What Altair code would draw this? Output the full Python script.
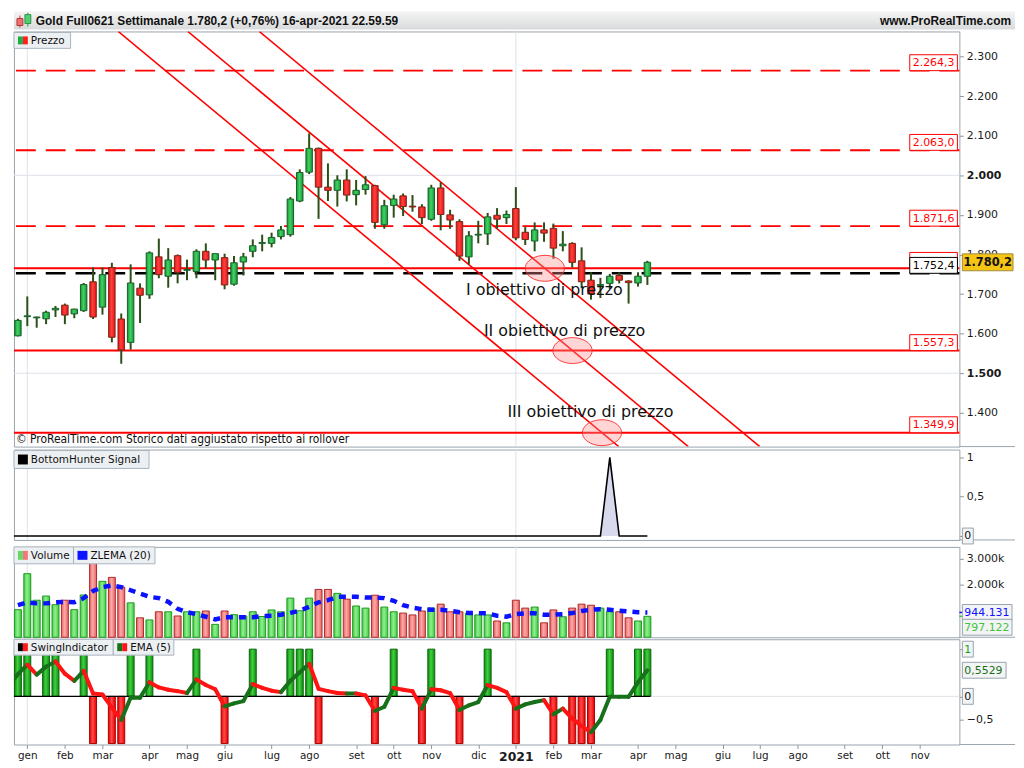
import math
import json
import altair as alt
import numpy as np
import pandas as pd

FONT = "DejaVu Sans"

# ---------------- data ----------------
# weekly bars: 0 = week of 30 Dec 2019 ... 67 = week of 12 Apr 2021
bar_index = list(range(68))

opens = [1594.6, 1643, 1640, 1637.5, 1660, 1672, 1650, 1658, 1731, 1667,
         1767, 1637, 1578, 1715, 1698, 1794, 1745, 1797, 1760, 1757,
         1808, 1786, 1792, 1725, 1781, 1808, 1828, 1828, 1845, 1850,
         1935, 2008, 2068, 1970, 1962, 1988, 1951, 1964, 1974, 1875,
         1924, 1948, 1922, 1920, 1889, 1968, 1900, 1883, 1794, 1849,
         1852, 1899, 1893, 1916, 1856, 1834, 1862, 1866, 1822, 1828,
         1784, 1735, 1722, 1727, 1747, 1733, 1728, 1745]
highs = [1637.5, 1694, 1643, 1658, 1670, 1676, 1663, 1728, 1767, 1767,
         1779, 1651, 1775, 1727, 1808, 1840, 1816, 1800, 1787, 1813,
         1828, 1802, 1802, 1796, 1804, 1838, 1850, 1855, 1872, 1945,
         2015, 2106, 2070, 2030, 2000, 2015, 1988, 1998, 1976, 1938,
         1951, 1954, 1950, 1927, 1976, 1982, 1913, 1889, 1859, 1885,
         1905, 1917, 1911, 1970, 1869, 1881, 1881, 1878, 1859, 1831,
         1818, 1755, 1741, 1751, 1755, 1735, 1755, 1784]
lows = [1593, 1619, 1615, 1624, 1642, 1624, 1639, 1655, 1637, 1648,
        1578, 1524, 1560, 1627, 1688, 1740, 1716, 1727, 1735, 1740,
        1765, 1735, 1712, 1721, 1747, 1793, 1808, 1818, 1838, 1845,
        1932, 2003, 1890, 1935, 1921, 1934, 1924, 1951, 1865, 1865,
        1893, 1897, 1908, 1877, 1885, 1861, 1865, 1784, 1775, 1828,
        1824, 1865, 1877, 1836, 1824, 1808, 1832, 1789, 1808, 1767,
        1715, 1686, 1690, 1713, 1727, 1676, 1719, 1723]
closes = [1633.5, 1645, 1642, 1654, 1664, 1647, 1662, 1724, 1642, 1749,
          1591, 1559, 1728, 1697, 1804, 1749, 1786, 1755, 1762, 1808,
          1786, 1802, 1723, 1779, 1794, 1822, 1830, 1843, 1862, 1940,
          2007, 2068, 1970, 1962, 1988, 1950, 1962, 1976, 1881, 1923,
          1940, 1921, 1920, 1893, 1968, 1901, 1887, 1796, 1847, 1851,
          1895, 1889, 1901, 1842, 1838, 1862, 1854, 1816, 1826, 1780,
          1731, 1700, 1724, 1745, 1735, 1729, 1745, 1780.2]

volume_k = [1050, 2420, 1410, 1570, 1240, 1410, 1050, 1610, 2860, 2130,
            2280, 1910, 1310, 740, 660, 970, 970, 810, 970, 970,
            1000, 490, 1000, 860, 810, 970, 790, 1040, 970, 1490,
            1010, 1490, 1820, 1820, 1670, 1450, 1190, 1110, 1600, 1150,
            970, 920, 850, 1000, 1110, 1260, 970, 970, 920, 850,
            850, 620, 550, 1410, 1110, 1150, 550, 1040, 780, 1110,
            1260, 1220, 1110, 970, 970, 740, 620, 797.122]
zlema_k = [1220, 1330, 1290, 1290, 1330, 1350, 1330, 1490, 1760, 1910,
           1970, 1910, 1790, 1660, 1540, 1490, 1350, 1080, 950, 880,
           780, 680, 760, 760, 760, 760, 810, 820, 860, 930,
           1010, 1160, 1330, 1410, 1540, 1540, 1540, 1510, 1510, 1490,
           1390, 1220, 1130, 1070, 1050, 1050, 1010, 950, 920, 920,
           910, 820, 780, 880, 910, 910, 860, 860, 880, 920,
           1000, 1050, 1070, 1050, 1010, 980, 950, 944.131]
swing = [1, 1, 0, 1, 1, 0, 0, 1, -1, 0,
         -1, -1, 1, 0, 1, 0, 0, 0, 0, 1,
         0, 0, -1, 0, 0, 1, 0, 0, 0, 1,
         1, 1, -1, 0, 0, 0, 0, 0, -1, 0,
         1, 0, 0, -1, 1, 0, 0, -1, 0, 0,
         1, 0, 0, -1, 0, 0, 0, -1, 0, -1,
         -1, -1, 0, 1, 0, 0, 1, 1]
ema_index = list(range(-1, 68))
ema5 = [0.22,
        0.47, 0.67, 0.46, 0.63, 0.74, 0.48, 0.33, 0.54, 0.06, 0.04,
        -0.24, -0.5, -0.03, -0.03, 0.30, 0.19, 0.14, 0.11, 0.07, 0.36,
        0.24, 0.15, -0.21, -0.15, -0.10, 0.26, 0.18, 0.12, 0.09, 0.33,
        0.51, 0.69, 0.16, 0.11, 0.07, 0.06, 0.06, 0.02, -0.31, -0.22,
        0.18, 0.14, 0.11, -0.26, 0.15, 0.13, 0.07, -0.29, -0.19, -0.12,
        0.24, 0.18, 0.09, -0.26, -0.17, -0.12, -0.08, -0.38, -0.26, -0.47,
        -0.63, -0.76, -0.50, -0.01, -0.01, -0.01, 0.30, 0.5529]
bh_index = list(range(-1, 68))
bottom_hunter = [0,
                 0, 0, 0, 0, 0, 0, 0, 0, 0, 0,
                 0, 0, 0, 0, 0, 0, 0, 0, 0, 0,
                 0, 0, 0, 0, 0, 0, 0, 0, 0, 0,
                 0, 0, 0, 0, 0, 0, 0, 0, 0, 0,
                 0, 0, 0, 0, 0, 0, 0, 0, 0, 0,
                 0, 0, 0, 0, 0, 0, 0, 0, 0, 0,
                 0, 0, 0, 1, 0, 0, 0, 0]

month_tick_bars = [1, 5, 9, 14, 18, 22, 27, 31, 36, 40, 44, 49,
                   53, 57, 61, 66, 70, 75, 79, 83, 88, 92, 96]
month_tick_labels = ["gen", "feb", "mar", "apr", "mag", "giu", "lug", "ago", "set", "ott", "nov", "dic",
                     "2021", "feb", "mar", "apr", "mag", "giu", "lug", "ago", "set", "ott", "nov"]
year_start_bars = [1, 53]

price_ticks = [1400, 1500, 1600, 1700, 1800, 1900, 2000, 2100, 2200, 2300]

level_values = [2264.3, 2063.0, 1871.6, 1765.0, 1752.4, 1557.3, 1349.9]
level_kinds = ["dash_red", "dash_red", "dash_red", "solid_red", "dash_black", "solid_red", "solid_red"]
level_labels = ["2.264,3", "2.063,0", "1.871,6", "", "1.752,4", "1.557,3", "1.349,9"]
level_colors = ["#ff0000", "#ff0000", "#ff0000", "#ff0000", "#000000", "#ff0000", "#ff0000"]

channel_start_bar = [10.68, 18.08, 25.69]
channel_end_bar = [63.95, 71.35, 78.96]
channel_start_price = [2363.2, 2363.2, 2363.2]
channel_end_price = [1314.8, 1314.8, 1314.8]

target_bar = [56.09, 59.03, 62.17]
target_price = [1765.0, 1557.3, 1349.9]
target_text = ["I obiettivo di prezzo", "II obiettivo di prezzo", "III obiettivo di prezzo"]
target_text_bar = [47.7, 49.6, 52.1]
target_text_price = [1711.0, 1607.0, 1402.0]

TITLE = "Gold Full0621 Settimanale 1.780,2 (+0,76%) 16-apr-2021 22.59.59"
SITE = "www.ProRealTime.com"
COPYRIGHT = "\u00a9 ProRealTime.com Storico dati aggiustato rispetto ai rollover"

# ---------------- layout ----------------
W = 952
RW = 56
H_HEAD, H_PRICE, H_BH, H_VOL, H_SW = 18, 418, 91, 91, 106
XSCALE = alt.Scale(domain=[-0.42, 100.21], nice=False, zero=False, padding=0)
LEG_FONT = 10.5


def it_num(v, dec):
    s = f"{v:,.{dec}f}"
    return s.replace(",", "X").replace(".", ",").replace("X", ".")


def grad(c1, c2):
    return alt.LinearGradient(gradient="linear", x1=0, y1=0, x2=1, y2=0,
                              stops=[alt.GradientStop(color=c1, offset=0),
                                     alt.GradientStop(color=c2, offset=0.45),
                                     alt.GradientStop(color=c1, offset=1)])


def xn(field):
    return alt.X(f"{field}:Q", scale=XSCALE, axis=None, title=None)


one = pd.DataFrame({"k": [0]})

df = pd.DataFrame({"i": bar_index, "o": opens, "h": highs, "l": lows, "c": closes,
                   "v": volume_k, "z": zlema_k, "s": swing})
years = pd.DataFrame({"i": year_start_bars})


def legend(x0, x1, y0, y1, label, icon_cols):
    layers = [alt.Chart(one).mark_rect(fill="#edf0f3", stroke="#a9b3bc", strokeWidth=1).encode(
        x=alt.value(x0), x2=alt.value(x1), y=alt.value(y0), y2=alt.value(y1))]
    n = len(icon_cols)
    w = 10.0 / n
    for k, c in enumerate(icon_cols):
        layers.append(alt.Chart(one).mark_rect(fill=c).encode(
            x=alt.value(x0 + 4 + k * w), x2=alt.value(x0 + 4 + (k + 1) * w),
            y=alt.value(y0 + 4), y2=alt.value(y1 - 4)))
    layers.append(alt.Chart(one).mark_text(text=label, align="left", baseline="middle", fontSize=LEG_FONT,
                                           font=FONT, color="#111").encode(
        x=alt.value(x0 + 17), y=alt.value((y0 + y1) / 2 + 0.5)))
    return layers


def tag(yfun, value, label, txt_col, width, offset=0.0, fill="#f3f4f5", bold=False):
    d = pd.DataFrame({"v": [value], "lab": [label]})
    box = alt.Chart(d).mark_rect(fill=fill, stroke="#98a3ad", strokeWidth=1,
                                 yOffset=offset - 8, y2Offset=offset + 8).encode(
        x=alt.value(W + 3), x2=alt.value(W + 3 + width), y=yfun("v"), y2=alt.Y2("v"))
    txt = alt.Chart(d).mark_text(align="left", baseline="middle", dy=offset + 0.5, fontSize=11, font=FONT,
                                 color=txt_col, fontWeight="bold" if bold else "normal").encode(
        x=alt.value(W + 5), y=yfun("v"), text="lab:N")
    return [box, txt]


def sep_rule(h):
    return alt.Chart(one).mark_rule(color="#98a3ad", strokeWidth=1).encode(
        x=alt.value(W), x2=alt.value(W + RW), y=alt.value(h))


AXIS_STYLE = dict(orient="right", grid=False, domain=False, tickSize=4, tickColor="#8c969f",
                  labelFont=FONT, labelFontSize=11, labelColor="#1a1a1a", labelPadding=3)

# ---------------- header ----------------
head_grad = alt.LinearGradient(gradient="linear", x1=0, y1=0, x2=0, y2=1,
                               stops=[alt.GradientStop(color="#f4f4f4", offset=0),
                                      alt.GradientStop(color="#d9dadb", offset=1)])
header = alt.layer(
    alt.Chart(one).mark_rect(fill=head_grad).encode(
        x=alt.value(0), x2=alt.value(W + RW), y=alt.value(0), y2=alt.value(H_HEAD)),
    alt.Chart(one).mark_rule(color="#e03030", strokeWidth=1).encode(
        x=alt.value(6), y=alt.value(4), y2=alt.value(16)),
    alt.Chart(one).mark_rect(fill="#f07070", stroke="#a02020", strokeWidth=0.8).encode(
        x=alt.value(3), x2=alt.value(9), y=alt.value(7), y2=alt.value(14)),
    alt.Chart(one).mark_rule(color="#20a040", strokeWidth=1).encode(
        x=alt.value(14), y=alt.value(1), y2=alt.value(15)),
    alt.Chart(one).mark_rect(fill="#50d070", stroke="#208040", strokeWidth=0.8).encode(
        x=alt.value(11), x2=alt.value(17), y=alt.value(3), y2=alt.value(12)),
    alt.Chart(one).mark_text(text=TITLE, align="left", baseline="middle", font="Liberation Sans",
                             fontWeight="bold", fontSize=12, color="#111").encode(
        x=alt.value(22), y=alt.value(H_HEAD / 2 + 0.5)),
    alt.Chart(one).mark_text(text=SITE, align="right", baseline="middle", font="Liberation Sans",
                             fontWeight="bold", fontSize=12, color="#111").encode(
        x=alt.value(W + RW - 4), y=alt.value(H_HEAD / 2 + 0.5)),
).properties(width=W, height=H_HEAD, view=alt.ViewBackground(stroke="transparent"))

# ---------------- price panel ----------------
PSCALE = alt.Scale(domain=[1314.8, 2363.2], nice=False, zero=False)
PAXIS = alt.Axis(values=price_ticks,
                 labelExpr="replace(format(datum.value, ','), ',', '.')",
                 labelFontWeight={"condition": {"test": "datum.value == 2000 || datum.value == 1500",
                                                "value": "bold"}, "value": "normal"},
                 **AXIS_STYLE)


def py(field):
    return alt.Y(f"{field}:Q", scale=PSCALE, axis=PAXIS, title=None)


levels = pd.DataFrame({"p": level_values, "kind": level_kinds, "lab": level_labels, "col": level_colors})
hgrid = pd.DataFrame({"p": [1500, 2000]})
chan = pd.DataFrame({"x1": channel_start_bar, "x2": channel_end_bar,
                     "p1": channel_start_price, "p2": channel_end_price})
tgt = pd.DataFrame({"i": target_bar, "p": target_price})
tgt_txt = pd.DataFrame({"i": target_text_bar, "p": target_text_price, "t": target_text})
last = pd.DataFrame({"p": [closes[-1]], "lab": [it_num(closes[-1], 1)]})

ell_pts = [2 * math.pi * k / 40 for k in range(40)]
ELLIPSE = "M" + " L".join(f"{math.cos(t):.3f},{0.66 * math.sin(t):.3f}" for t in ell_pts) + " Z"

price_layers = [
    alt.Chart(years).mark_rule(color="#dde2e8", strokeWidth=1).encode(x=xn("i")),
    alt.Chart(hgrid).mark_rule(color="#dde2e8", strokeWidth=1).encode(y=py("p")),
    alt.Chart(levels).transform_filter("datum.kind == 'dash_red'").mark_rule(
        color="#ff0000", strokeWidth=2, strokeDash=[20, 10]).encode(y=py("p")),
    alt.Chart(levels).transform_filter("datum.kind == 'solid_red'").mark_rule(
        color="#ff0000", strokeWidth=2).encode(y=py("p")),
    alt.Chart(levels).transform_filter("datum.kind == 'dash_black'").mark_rule(
        color="#000000", strokeWidth=2.5, strokeDash=[20, 10]).encode(y=py("p")),
    alt.Chart(chan).mark_rule(color="#ff0000", strokeWidth=1.6, clip=True).encode(
        x=xn("x1"), x2=alt.X2("x2"), y=py("p1"), y2=alt.Y2("p2")),
    alt.Chart(df).mark_rule(color="#2b4f16", strokeWidth=2).encode(
        x=xn("i"), y=py("l"), y2=alt.Y2("h")),
    alt.Chart(df).transform_filter("datum.c >= datum.o").mark_bar(
        size=6.5, fill=grad("#169237", "#40d462"), stroke="#1a5e28", strokeWidth=1).encode(
        x=xn("i"), y=py("o"), y2=alt.Y2("c")),
    alt.Chart(df).transform_filter("datum.c < datum.o").mark_bar(
        size=6.5, fill=grad("#e61212", "#ff4040"), stroke="#7a2512", strokeWidth=1).encode(
        x=xn("i"), y=py("o"), y2=alt.Y2("c")),
    alt.Chart(tgt).mark_point(shape=ELLIPSE, size=1560, filled=True, fill="#ff8a8a", fillOpacity=0.36,
                              stroke="#ff2a2a", strokeWidth=1, strokeOpacity=0.9, opacity=1).encode(
        x=xn("i"), y=py("p")),
    alt.Chart(tgt_txt).mark_text(align="left", baseline="middle", fontSize=16, font=FONT,
                                 color="#111").encode(x=xn("i"), y=py("p"), text="t:N"),
    alt.Chart(levels).mark_rect(fill="white", strokeWidth=1, yOffset=-16, y2Offset=0).encode(
        x=alt.value(W - 50), x2=alt.value(W - 2), y=py("p"), y2=alt.Y2("p"),
        stroke=alt.Stroke("col:N", scale=None)),
    alt.Chart(levels).transform_filter("datum.lab != ''").mark_text(
        align="center", baseline="middle", dy=-7.5, fontSize=11, font=FONT).encode(
        x=alt.value(W - 26), y=py("p"), text="lab:N", color=alt.Color("col:N", scale=None)),
    alt.Chart(last).mark_rect(fill="#f6c413", stroke="#a08a40", strokeWidth=1, yOffset=-8.5,
                              y2Offset=8.5).encode(
        x=alt.value(W + 3), x2=alt.value(W + 54), y=py("p"), y2=alt.Y2("p")),
    alt.Chart(last).mark_text(align="center", baseline="middle", dy=0.5, fontSize=11.5, font=FONT,
                              fontWeight="bold", color="#111").encode(
        x=alt.value(W + 28.5), y=py("p"), text="lab:N"),
    alt.Chart(one).mark_text(text=COPYRIGHT, align="left", baseline="bottom", fontSize=12,
                             font="Liberation Sans Narrow, DejaVu Sans Condensed, Liberation Sans",
                             color="#111").encode(x=alt.value(2), y=alt.value(H_PRICE - 1)),
    sep_rule(H_PRICE),
] + legend(0, 57, 1, 17, "Prezzo", ["#1fae46", "#ff2020"])
price = alt.layer(*price_layers).properties(width=W, height=H_PRICE)

# ---------------- BottomHunter panel ----------------
BSCALE = alt.Scale(domain=[-0.05, 1.1], nice=False, zero=False)
BAXIS = alt.Axis(values=[0, 0.5, 1],
                 labelExpr="datum.value == 1 ? '1' : datum.value == 0.5 ? '0,5' : ''", **AXIS_STYLE)


def by(field):
    return alt.Y(f"{field}:Q", scale=BSCALE, axis=BAXIS, title=None)


bh_df = pd.DataFrame({"i": bh_index, "v": bottom_hunter})
bh_layers = [
    alt.Chart(years).mark_rule(color="#dde2e8", strokeWidth=1).encode(x=xn("i")),
    alt.Chart(bh_df).mark_area(color="#d9d9ee", clip=True).encode(x=xn("i"), y=by("v"), y2=alt.Y2(datum=0)),
    alt.Chart(bh_df).mark_line(color="#000000", strokeWidth=1.6, clip=True).encode(x=xn("i"), y=by("v")),
    sep_rule(H_BH),
] + tag(by, 0, "0", "#111", 11) + legend(0, 136, 1, 19, "BottomHunter Signal", ["#000000"])
bh = alt.layer(*bh_layers).properties(width=W, height=H_BH)

# ---------------- Volume panel ----------------
VSCALE = alt.Scale(domain=[0, 3440], nice=False, zero=False)
VAXIS = alt.Axis(values=[2000, 3000], labelExpr="replace(format(datum.value, ','), ',', '.') + 'k'",
                 **AXIS_STYLE)


def vy(field):
    return alt.Y(f"{field}:Q", scale=VSCALE, axis=VAXIS, title=None)


vol_last = pd.DataFrame({"v": [volume_k[-1]], "z": [zlema_k[-1]]})
vol_layers = [
    alt.Chart(years).mark_rule(color="#dde2e8", strokeWidth=1).encode(x=xn("i")),
    alt.Chart(df).transform_filter("datum.c >= datum.o").mark_bar(
        size=7, fill=grad("#45c845", "#8ef08e"), stroke="#1f9a1f", strokeWidth=1).encode(
        x=xn("i"), y=vy("v"), y2=alt.Y2(datum=0)),
    alt.Chart(df).transform_filter("datum.c < datum.o").mark_bar(
        size=7, fill=grad("#e26464", "#ffa8a8"), stroke="#b02a2a", strokeWidth=1).encode(
        x=xn("i"), y=vy("v"), y2=alt.Y2(datum=0)),
    alt.Chart(df).mark_line(color="#0a12ff", strokeWidth=4.5, strokeDash=[7, 6]).encode(x=xn("i"), y=vy("z")),
    alt.Chart(vol_last).mark_rule(color="#0a12ff", strokeWidth=1.5).encode(
        x=alt.value(W), x2=alt.value(W + 4), y=vy("z")),
    alt.Chart(vol_last).mark_rule(color="#3cc43c", strokeWidth=1.5).encode(
        x=alt.value(W), x2=alt.value(W + 4), y=vy("v")),
    sep_rule(H_VOL),
] + tag(vy, zlema_k[-1], it_num(zlema_k[-1] * 1000, 0), "#1010ff", 50) \
  + tag(vy, volume_k[-1], it_num(volume_k[-1] * 1000, 0), "#3cc43c", 50, offset=11) \
  + legend(0, 60, 0, 17, "Volume", ["#66d866", "#f07878"]) \
  + legend(60, 142, 0, 17, "ZLEMA (20)", ["#0a12ff"])
vol = alt.layer(*vol_layers).properties(width=W, height=H_VOL)

# ---------------- Swing panel ----------------
SSCALE = alt.Scale(domain=[-1.02, 1.21], nice=False, zero=False)
SAXIS = alt.Axis(values=[-0.5, 0, 1], labelExpr="datum.value == -0.5 ? '\u22120,5' : ''", **AXIS_STYLE)
XAXIS = alt.Axis(orient="bottom", values=month_tick_bars,
                 labelExpr=f"{json.dumps(month_tick_labels)}[indexof({json.dumps(month_tick_bars)}, datum.value)]",
                 labelFontSize={"condition": {"test": "datum.value == 53", "value": 12.5}, "value": 10.5},
                 labelFontWeight={"condition": {"test": "datum.value == 53", "value": "bold"}, "value": "normal"},
                 grid=False, domain=False, tickSize=4, tickColor="#8c969f", labelFont=FONT,
                 labelColor="#1a1a1a", labelPadding=2, labelFlush=False)


def xs(field):
    return alt.X(f"{field}:Q", scale=XSCALE, axis=XAXIS, title=None)


def sy(field):
    return alt.Y(f"{field}:Q", scale=SSCALE, axis=SAXIS, title=None)


ema_seg = pd.DataFrame({"i0": ema_index[:-1], "i1": ema_index[1:], "e0": ema5[:-1], "e1": ema5[1:]})
ema_seg["dir"] = np.where(ema_seg["e1"] >= ema_seg["e0"], "up", "down")
zero_line = pd.DataFrame({"a": [bar_index[0] - 1], "b": [bar_index[-1] + 0.3], "y": [0]})

sw_layers = [
    alt.Chart(years).mark_rule(color="#dde2e8", strokeWidth=1).encode(x=xs("i")),
    alt.Chart(zero_line).mark_rule(color="#dde2e8", strokeWidth=1).encode(y=sy("y")),
    alt.Chart(df).transform_filter("datum.s > 0").mark_bar(
        size=7, fill=grad("#0e8a0e", "#40d040"), stroke="#0b650b", strokeWidth=1).encode(
        x=xs("i"), y=sy("s"), y2=alt.Y2(datum=0)),
    alt.Chart(df).transform_filter("datum.s < 0").mark_bar(
        size=7, fill=grad("#e80000", "#ff4a4a"), stroke="#a80000", strokeWidth=1).encode(
        x=xs("i"), y=sy("s"), y2=alt.Y2(datum=0)),
    alt.Chart(zero_line).mark_rule(color="#000000", strokeWidth=1.2, clip=True).encode(
        x=xs("a"), x2=alt.X2("b"), y=sy("y")),
    alt.Chart(ema_seg).mark_rule(strokeWidth=4, strokeCap="round", clip=True).encode(
        x=xs("i0"), x2=alt.X2("i1"), y=sy("e0"), y2=alt.Y2("e1"),
        color=alt.Color("dir:N", scale=alt.Scale(domain=["up", "down"], range=["#17701a", "#ff1414"]),
                        legend=None)),
    sep_rule(H_SW),
] + tag(sy, 1, "1", "#18a018", 11) \
  + tag(sy, ema5[-1], f"{ema5[-1]:.4f}".replace(".", ","), "#137013", 44) \
  + tag(sy, 0, "0", "#111", 11) \
  + legend(0, 100, 0, 16, "SwingIndicator", ["#000000", "#ff1a1a"]) \
  + legend(100, 161, 0, 16, "EMA (5)", ["#17701a", "#ff1414"])
sw = alt.layer(*sw_layers).properties(width=W, height=H_SW)

chart = alt.vconcat(header, price, bh, vol, sw, spacing=0).properties(
    padding={"left": 0, "top": 0, "right": 0, "bottom": 0}
).configure_view(stroke="#98a3ad", strokeWidth=1)

chart.save("out.html", embed_options={"renderer": "svg", "actions": False})
